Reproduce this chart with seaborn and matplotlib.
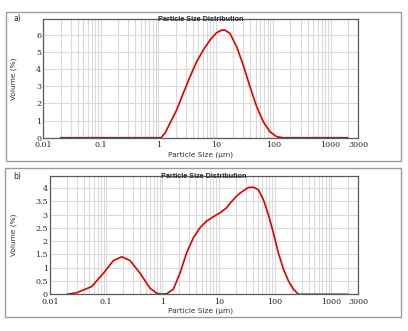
import numpy as np
import pandas as pd
import matplotlib
matplotlib.use("Agg")
import matplotlib.pyplot as plt
from matplotlib.ticker import LogLocator, NullFormatter, FixedLocator, FixedFormatter
from matplotlib.patches import Rectangle
import seaborn as sns

# ---- data ----
size_a = [0.02, 0.1, 0.5, 1.0, 1.12, 1.31, 1.60, 2.09, 2.73, 3.57, 4.67, 6.1, 7.95,
          10.4, 12.7, 14.5, 17.7, 23.2, 30.2, 39.5, 51.7, 67.4, 88, 115, 150, 500, 2000]
vol_a = [0, 0, 0, 0, 0, 0.26, 0.84, 1.61, 2.59, 3.55, 4.43, 5.11, 5.69,
         6.12, 6.27, 6.27, 6.08, 5.3, 4.23, 2.97, 1.81, 0.93, 0.35, 0.06, 0, 0, 0]

size_b = [0.02, 0.03, 0.055, 0.089, 0.134, 0.189, 0.265, 0.40, 0.60, 0.79, 0.95, 1.19,
          1.56, 2.06, 2.70, 3.55, 4.67, 6.14, 8.05, 10.6, 13.9, 16, 21, 24, 33.8, 41.4,
          50.8, 62.4, 76.6, 94, 115, 142, 174, 213, 262, 1000, 2000]
vol_b = [0, 0.06, 0.29, 0.79, 1.27, 1.41, 1.27, 0.79, 0.23, 0.04, 0.01, 0.02,
         0.19, 0.81, 1.57, 2.13, 2.51, 2.76, 2.92, 3.07, 3.26, 3.43, 3.70, 3.81, 4.02, 4.03,
         3.93, 3.56, 2.99, 2.31, 1.56, 0.94, 0.50, 0.19, 0, 0, 0]

xtick_vals = [0.01, 0.1, 1, 10, 100, 1000, 3000]
xtick_labels = ["0.01", "0.1", "1", "10", "100", "1000", "3000"]
ytick_a = [0, 1, 2, 3, 4, 5, 6]
ytick_labels_a = ["0", "1", "2", "3", "4", "5", "6"]
ytick_b = [0, 0.5, 1, 1.5, 2, 2.5, 3, 3.5, 4]
ytick_labels_b = ["0", "0.5", "1", "1.5", "2", "2.5", "3", "3.5", "4"]

title = "Particle Size Distribution"
xlabel = "Particle Size (µm)"
ylabel = "Volume (%)"
panel_labels = ["a)", "b)"]

sns.set_style("white")
plt.rcParams["font.family"] = ["DejaVu Sans"]

W, H = 408, 331
fig = plt.figure(figsize=(W / 100, H / 100), dpi=100)

def fx(px):
    return px / W

def fy(py):
    return 1 - py / H

# outer frames
for (x0, y0, x1, y1) in [(5.5, 12.3, 400.5, 161), (5.0, 168.3, 400.5, 316.7)]:
    fig.patches.append(Rectangle((fx(x0), fy(y1)), fx(x1) - fx(x0), fy(y0) - fy(y1),
                                 transform=fig.transFigure, fill=False,
                                 edgecolor="#9a9a9a", linewidth=1.0))

specs = [
    dict(box=(43.3, 19.3, 358, 137.7), x=size_a, y=vol_a, ymax=6.9,
         yt=ytick_a, ytl=ytick_labels_a, lab=(13, 19), ylab_x=14, xlab_y=155),
    dict(box=(50, 176, 358, 294.3), x=size_b, y=vol_b, ymax=4.45,
         yt=ytick_b, ytl=ytick_labels_b, lab=(13, 176), ylab_x=14, xlab_y=311),
]

for i, s in enumerate(specs):
    l, t, r, b = s["box"]
    ax = fig.add_axes([fx(l), fy(b), fx(r) - fx(l), fy(t) - fy(b)])
    df = pd.DataFrame({"size": s["x"], "vol": s["y"]})
    sns.lineplot(data=df, x="size", y="vol", ax=ax, color="#e00000",
                 linewidth=1.2, estimator=None, sort=False)
    ax.set_xscale("log")
    ax.set_xlim(0.01, 3000)
    ax.set_ylim(0, s["ymax"])
    ax.xaxis.set_major_locator(FixedLocator(xtick_vals))
    ax.xaxis.set_major_formatter(FixedFormatter(xtick_labels))
    ax.xaxis.set_minor_locator(LogLocator(base=10, subs=np.arange(2, 10), numticks=20))
    ax.xaxis.set_minor_formatter(NullFormatter())
    ax.set_yticks(s["yt"])
    ax.set_yticklabels(s["ytl"])
    ax.grid(True, which="both", axis="x", color="#dadada", linewidth=0.8)
    ax.grid(True, which="major", axis="y", color="#dadada", linewidth=0.8)
    ax.tick_params(which="both", length=0, labelsize=5.8)
    ax.tick_params(axis="x", pad=2.6)
    ax.tick_params(axis="y", pad=1.5)
    for lbl in ax.get_xticklabels() + ax.get_yticklabels():
        lbl.set_family("DejaVu Serif")
    for sp in ax.spines.values():
        sp.set_color("#5a5a5a")
        sp.set_linewidth(0.9)
    ax.set_xlabel("")
    ax.set_ylabel("")
    ax.text(0.5, 1.0, title, transform=ax.transAxes, ha="center", va="center",
            fontsize=5.2, fontweight="bold", family="Liberation Sans", zorder=5)
    fig.text(fx(s["lab"][0]), fy(s["lab"][1]), panel_labels[i], fontsize=5.5,
             ha="left", va="center")
    fig.text(fx(s["ylab_x"]), fy((t + b) / 2), ylabel, rotation=90, fontsize=5.3,
             ha="center", va="center", color="#333333")
    fig.text(fx(201), fy(s["xlab_y"]), xlabel, fontsize=5.3, ha="center",
             va="center", color="#333333")

fig.savefig("out.png", dpi=100)
